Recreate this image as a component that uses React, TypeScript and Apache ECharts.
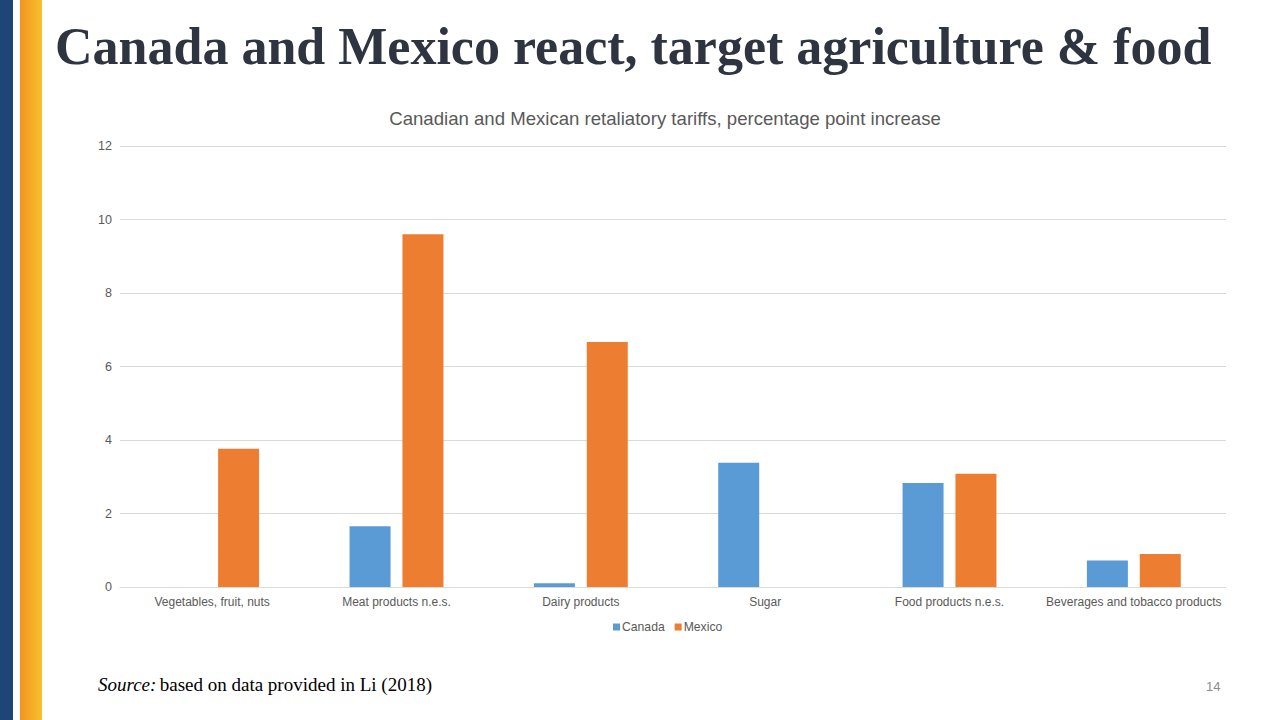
import React, { useEffect, useRef } from "react";
import * as echarts from "echarts";

const categories = [
  "Vegetables, fruit, nuts",
  "Meat products n.e.s.",
  "Dairy products",
  "Sugar",
  "Food products n.e.s.",
  "Beverages and tobacco products",
];
const canada = [0, 1.65, 0.1, 3.38, 2.83, 0.72];
const mexico = [3.76, 9.6, 6.67, 0, 3.08, 0.9];
const yTicks = { min: 0, max: 12, interval: 2 };

export default function App() {
  const ref = useRef<HTMLDivElement>(null);
  useEffect(() => {
    const chart = echarts.init(ref.current!, null, { renderer: "svg" });
    chart.setOption({
      animation: false,
      backgroundColor: "#ffffff",
      title: {
        text: "Canadian and Mexican retaliatory tariffs, percentage point increase",
        left: 660,
        textAlign: "center",
        top: 104,
        textStyle: { fontFamily: "Liberation Sans, Arial", fontSize: 18.6, fontWeight: "normal", color: "#595959" },
      },
      legend: {
        data: ["Canada", "Mexico"],
        left: 608,
        top: 616,
        itemWidth: 7,
        itemHeight: 7,
        itemGap: 10,
        icon: "rect",
        textStyle: { fontFamily: "Liberation Sans, Arial", fontSize: 12.2, color: "#595959", padding: [0, 0, 0, -3] },
      },
      grid: { left: 120, right: 54, top: 146, bottom: 133 },
      xAxis: {
        type: "category",
        data: categories,
        axisLine: { lineStyle: { color: "#d9d9d9" } },
        axisTick: { show: false },
        axisLabel: { fontFamily: "Liberation Sans, Arial", fontSize: 12, color: "#595959", margin: 9, interval: 0 },
      },
      yAxis: {
        type: "value",
        min: yTicks.min,
        max: yTicks.max,
        interval: yTicks.interval,
        axisLine: { show: false },
        axisTick: { show: false },
        axisLabel: { fontFamily: "Liberation Sans, Arial", fontSize: 12.5, color: "#595959", margin: 8 },
        splitLine: { lineStyle: { color: "#d9d9d9" } },
      },
      series: [
        {
          name: "Canada",
          type: "bar",
          data: canada,
          barWidth: 41,
          barGap: "29%",
          itemStyle: { color: "#5B9BD5" },
        },
        {
          name: "Mexico",
          type: "bar",
          data: mexico,
          barWidth: 41,
          itemStyle: { color: "#ED7D31" },
        },
      ],
      graphic: [
        { type: "rect", shape: { x: 0, y: 0, width: 13, height: 720 }, style: { fill: "#1F4476" } },
        {
          type: "rect",
          shape: { x: 20, y: 0, width: 22, height: 720 },
          style: {
            fill: new echarts.graphic.LinearGradient(0, 0, 1, 0, [
              { offset: 0, color: "#F39321" },
              { offset: 1, color: "#F5C22C" },
            ]),
          },
        },
        {
          type: "text",
          left: 55,
          top: 20,
          style: {
            text: "Canada and Mexico react, target agriculture & food",
            font: "bold 52px 'Liberation Serif', 'Times New Roman', serif",
            fill: "#2E3440",
          },
        },
        {
          type: "text",
          left: 98,
          top: 675,
          style: {
            rich: {
              i: { fontFamily: "Liberation Serif", fontStyle: "italic", fontSize: 19, fill: "#000" },
              n: { fontFamily: "Liberation Serif", fontSize: 19, fill: "#000" },
            },
            text: "{i|Source:} {n|based on data provided in Li (2018)}",
          },
        },
        {
          type: "text",
          left: 1206,
          top: 680,
          style: { text: "14", font: "13px 'Liberation Sans', Arial", fill: "#8c8c8c" },
        },
      ],
    });
    return () => chart.dispose();
  }, []);
  return <div ref={ref} style={{ position: "fixed", left: 0, top: 0, width: 1280, height: 720 }} />;
}
